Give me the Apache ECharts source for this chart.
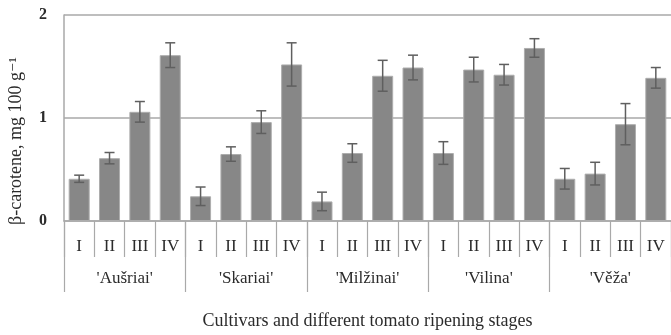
<!DOCTYPE html>
<html>
<head>
<meta charset="utf-8">
<script src="https://cdn.jsdelivr.net/npm/echarts@6/dist/echarts.min.js"></script>
<style>
  html, body { margin: 0; padding: 0; background: #ffffff; }
  #chart { width: 671px; height: 335px; }
</style>
</head>
<body>
<div id="chart"></div>
<script>
// Ripening stages and cultivars
const stages = ['I', 'II', 'III', 'IV'];
const cultivars = ["'Aušriai'", "'Skariai'", "'Milžinai'", "'Vilina'", "'Věža'"];

// β-carotene means (mg 100 g-1) per cultivar, stages I–IV
const ausriai  = [0.41, 0.61, 1.06, 1.61];
const skariai  = [0.24, 0.65, 0.96, 1.52];
const milzinai = [0.19, 0.66, 1.41, 1.49];
const vilina   = [0.66, 1.47, 1.42, 1.68];
const veza     = [0.41, 0.46, 0.94, 1.39];

// Error (± deviation) per cultivar, stages I–IV
const ausriaiErr  = [0.035, 0.055, 0.10, 0.12];
const skariaiErr  = [0.09, 0.07, 0.11, 0.21];
const milzinaiErr = [0.09, 0.09, 0.15, 0.12];
const vilinaErr   = [0.11, 0.12, 0.10, 0.09];
const vezaErr     = [0.10, 0.11, 0.20, 0.10];

// Y ticks
const yMin = 0, yMax = 2, yStep = 1;

const means = [ausriai, skariai, milzinai, vilina, veza];
const errs = [ausriaiErr, skariaiErr, milzinaiErr, vilinaErr, vezaErr];

// one category per cultivar/stage pair, labelled by stage only
const categories = [];
const barData = [];
const errData = [];
cultivars.forEach((c, ci) => {
  stages.forEach((s, si) => {
    const idx = categories.length;
    categories.push(c + '|' + s);
    barData.push(means[ci][si]);
    errData.push([idx, means[ci][si], errs[ci][si]]);
  });
});

const serif = '"Liberation Serif", "DejaVu Serif", serif';
const lineGray = '#a9a9a9';
const textColor = '#2b2b2b';

const chart = echarts.init(document.getElementById('chart'), null, { renderer: 'canvas' });

chart.setOption({
  backgroundColor: '#ffffff',
  animation: false,
  grid: { left: 64, top: 15, width: 615, height: 207 },
  xAxis: [
    {
      type: 'category',
      data: categories,
      position: 'bottom',
      boundaryGap: true,
      axisLine: { show: true, lineStyle: { color: lineGray, width: 1.5 } },
      axisTick: { show: true, interval: 0, length: 36, lineStyle: { color: lineGray, width: 1.2 } },
      axisLabel: {
        interval: 0, margin: 17,
        fontFamily: serif, fontSize: 17, color: textColor,
        formatter: v => v.split('|')[1]
      }
    },
    {
      type: 'category',
      data: cultivars,
      position: 'bottom',
      offset: 0,
      boundaryGap: true,
      axisLine: { show: false },
      axisTick: { show: true, interval: 0, length: 71, lineStyle: { color: lineGray, width: 1.2 } },
      axisLabel: { interval: 0, margin: 49, fontFamily: serif, fontSize: 17, color: textColor },
      name: 'Cultivars and different tomato ripening stages',
      nameLocation: 'middle',
      nameGap: 91,
      nameTextStyle: { fontFamily: serif, fontSize: 18, color: textColor }
    }
  ],
  yAxis: {
    type: 'value',
    min: yMin, max: yMax, interval: yStep,
    axisLine: { show: true, lineStyle: { color: lineGray, width: 1.5 } },
    axisTick: { show: false },
    splitLine: { show: true, lineStyle: { color: lineGray, width: 1.5 } },
    axisLabel: { margin: 17, fontFamily: serif, fontSize: 16, fontWeight: 'bold', color: textColor }
  },
  graphic: [
    {
      type: 'text',
      x: 16, y: 141,
      rotation: Math.PI / 2,
      style: {
        text: 'β-carotene, mg 100 g⁻¹',
        fontFamily: serif, fontSize: 18, fill: textColor,
        align: 'center', verticalAlign: 'middle'
      }
    }
  ],
  series: [
    {
      type: 'bar',
      xAxisIndex: 0,
      data: barData,
      barWidth: 21,
      itemStyle: { color: '#878787', borderColor: '#adadad', borderWidth: 1 }
    },
    {
      type: 'custom',
      xAxisIndex: 0,
      data: errData,
      encode: { x: 0, y: 1 },
      z: 3,
      renderItem: (params, api) => {
        const x = api.value(0), m = api.value(1), e = api.value(2);
        const hi = api.coord([x, m + e]);
        const lo = api.coord([x, m - e]);
        const half = 5;
        const style = { stroke: '#5f5f5f', lineWidth: 1.5 };
        return {
          type: 'group',
          children: [
            { type: 'line', shape: { x1: hi[0], y1: hi[1], x2: lo[0], y2: lo[1] }, style },
            { type: 'line', shape: { x1: hi[0] - half, y1: hi[1], x2: hi[0] + half, y2: hi[1] }, style },
            { type: 'line', shape: { x1: lo[0] - half, y1: lo[1], x2: lo[0] + half, y2: lo[1] }, style }
          ]
        };
      }
    }
  ]
});
</script>
</body>
</html>
